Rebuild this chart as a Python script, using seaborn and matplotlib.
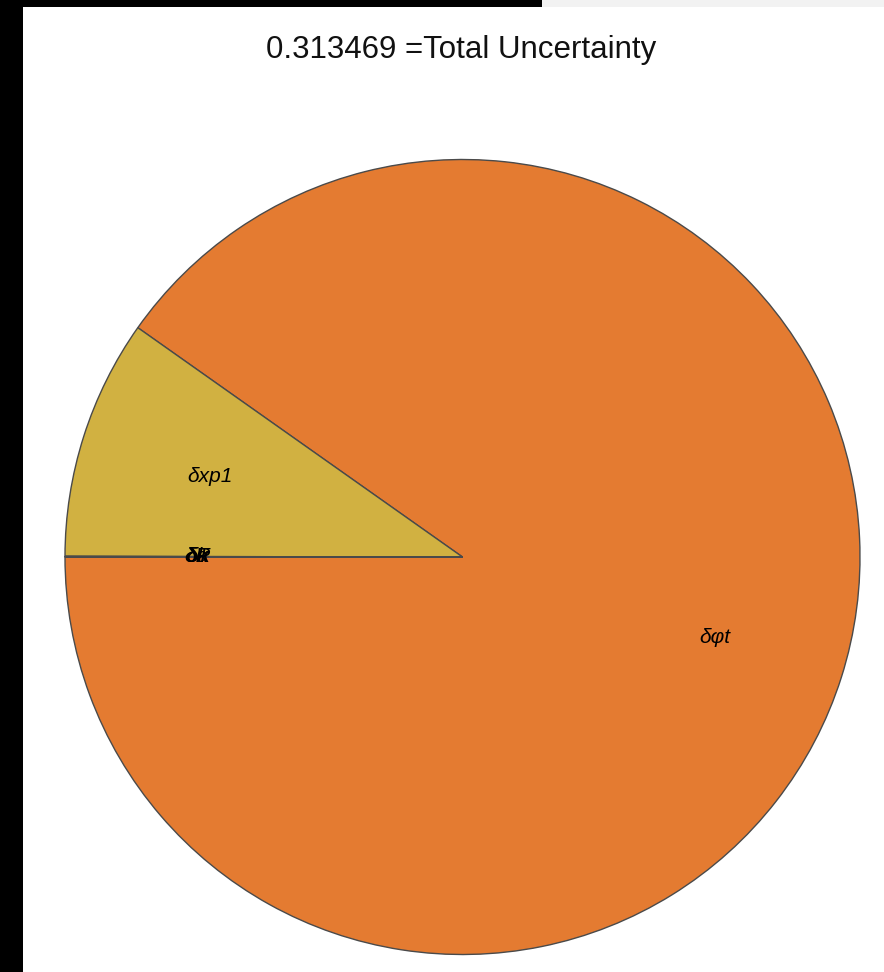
import matplotlib
matplotlib.use("Agg")
import matplotlib.pyplot as plt
from matplotlib.patches import Rectangle
import seaborn as sns

# Contributions to the total uncertainty
labels = ["δφt", "δxp1", "δk", "δR", "δα", "δT"]
values = [0.2828, 0.0306, 0.00002, 0.00002, 0.00002, 0.00002]
colors = ["#E47B31", "#D1B141", "#D1B141", "#D1B141", "#D1B141", "#D1B141"]
total = 0.313469

sns.set_theme(style="white")
plt.rcParams["font.family"] = ["Liberation Sans", "DejaVu Sans"]

W, H = 884, 972
fig = plt.figure(figsize=(W / 100, H / 100), dpi=100)
fig.patch.set_facecolor("white")

# dark frame on the left and strip along the top
fig.patches.append(Rectangle((0, 0), 23 / W, 1, transform=fig.transFigure,
                             facecolor="black", edgecolor="none", zorder=0))
fig.patches.append(Rectangle((0, 1 - 7 / H), 542 / W, 7 / H, transform=fig.transFigure,
                             facecolor="black", edgecolor="none", zorder=0))
fig.patches.append(Rectangle((542 / W, 1 - 7 / H), 1 - 542 / W, 7 / H,
                             transform=fig.transFigure,
                             facecolor="#F2F2F2", edgecolor="none", zorder=0))

# pie axes placed in pixels: centre (462, 557), radius ~397
cx, cy, r = 462.5, 557, 397.5
ax = fig.add_axes([(cx - r) / W, (H - cy - r) / H, 2 * r / W, 2 * r / H])
ax.set_facecolor("none")

wedges, texts = ax.pie(
    values,
    labels=labels,
    colors=colors,
    startangle=180,
    counterclock=True,
    labeldistance=0.667,
    radius=1.0,
    wedgeprops=dict(edgecolor="#4a4a4a", linewidth=1.0),
    textprops=dict(fontsize=15, fontstyle="italic", color="black"),
)
for t in texts:
    t.set_horizontalalignment("center")
    t.set_verticalalignment("center")

ax.set_xlim(-1, 1)
ax.set_ylim(-1, 1)
ax.set_aspect("equal")
ax.axis("off")

fig.text(461 / W, 1 - 58 / H, f"{total} =Total Uncertainty",
         ha="center", va="baseline", fontsize=22.5, color="#111111")

fig.savefig("out.png", dpi=100)
